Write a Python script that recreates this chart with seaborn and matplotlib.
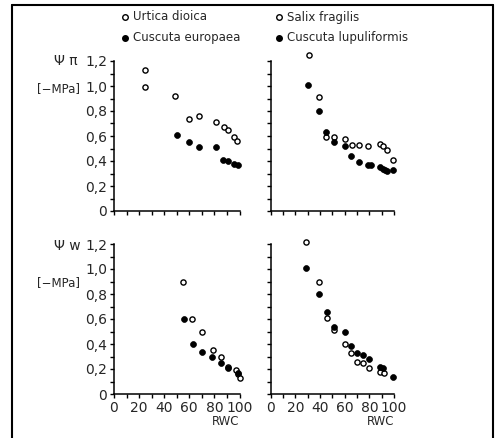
import numpy as np
import pandas as pd
import seaborn as sns
import matplotlib.pyplot as plt
from matplotlib.lines import Line2D
from matplotlib.ticker import MultipleLocator

# --- data (RWC %, potential in -MPa) ---
# top left: osmotic potential, Urtica dioica (open) / Cuscuta europaea (filled)
urtica_pi_rwc = [25, 25, 49, 60, 68, 81, 88, 91, 96, 98]
urtica_pi_val = [1.13, 0.99, 0.92, 0.74, 0.76, 0.71, 0.67, 0.65, 0.59, 0.56]
europaea_pi_rwc = [50, 60, 68, 81, 87, 91, 96, 99]
europaea_pi_val = [0.61, 0.55, 0.51, 0.51, 0.41, 0.40, 0.38, 0.365]

# top right: Salix fragilis (open) / Cuscuta lupuliformis (filled)
salix_pi_rwc = [31, 39, 45, 51, 60, 66, 72, 79, 89, 91, 94, 99]
salix_pi_val = [1.25, 0.91, 0.59, 0.59, 0.58, 0.53, 0.53, 0.52, 0.54, 0.52, 0.49, 0.41]
lupuli_pi_rwc = [30, 39, 45, 51, 60, 65, 72, 79, 81, 89, 91, 93, 94, 99]
lupuli_pi_val = [1.01, 0.80, 0.63, 0.55, 0.52, 0.44, 0.39, 0.365, 0.365, 0.355, 0.34, 0.325, 0.317, 0.328]

# bottom left: water potential
urtica_w_rwc = [55, 62, 70, 79, 85, 91, 97.5, 99, 100]
urtica_w_val = [0.90, 0.60, 0.50, 0.35, 0.30, 0.22, 0.19, 0.16, 0.125]
europaea_w_rwc = [56, 63, 70, 78, 85, 91, 99]
europaea_w_val = [0.60, 0.40, 0.34, 0.30, 0.25, 0.205, 0.17]

# bottom right
salix_w_rwc = [29, 39, 46, 51, 60, 65, 70, 75, 80, 89, 92]
salix_w_val = [1.22, 0.90, 0.61, 0.51, 0.40, 0.33, 0.255, 0.245, 0.21, 0.18, 0.165]
lupuli_w_rwc = [29, 39, 46, 51, 60, 65, 70, 75, 80, 89, 91, 99]
lupuli_w_val = [1.01, 0.80, 0.655, 0.54, 0.50, 0.385, 0.33, 0.31, 0.28, 0.215, 0.21, 0.14]

y_ticks = [0, 0.2, 0.4, 0.6, 0.8, 1.0, 1.2]
y_labels = ["0", "0,2", "0,4", "0,6", "0,8", "1,0", "1,2"]
x_ticks = [0, 20, 40, 60, 80, 100]
x_labels = ["0", "20", "40", "60", "80", "100"]

sns.set_style("ticks")
plt.rcParams['font.family'] = ['DejaVu Sans']
plt.rcParams['font.size'] = 8

W, H = 498, 438
fig = plt.figure(figsize=(W / 100, H / 100), dpi=100)


def make_ax(x0, x1, y0, y1):
    return fig.add_axes([x0 / W, 1 - y0 / H, (x1 - x0) / W, (y0 - y1) / H])


ax_tl = make_ax(114, 239.5, 211, 61)
ax_tr = make_ax(270.7, 394, 211, 61)
ax_bl = make_ax(114, 239.5, 394, 244)
ax_br = make_ax(270.7, 394, 394, 244)

panels = [
    (ax_tl, urtica_pi_rwc, urtica_pi_val, europaea_pi_rwc, europaea_pi_val),
    (ax_tr, salix_pi_rwc, salix_pi_val, lupuli_pi_rwc, lupuli_pi_val),
    (ax_bl, urtica_w_rwc, urtica_w_val, europaea_w_rwc, europaea_w_val),
    (ax_br, salix_w_rwc, salix_w_val, lupuli_w_rwc, lupuli_w_val),
]

for ax, ox, oy, fx, fy in panels:
    sns.scatterplot(x=ox, y=oy, ax=ax, s=14, marker='o', facecolor='white',
                    edgecolor='black', linewidth=1.0, clip_on=False, zorder=3)
    sns.scatterplot(x=fx, y=fy, ax=ax, s=18, marker='o', color='black',
                    edgecolor='black', linewidth=0.5, clip_on=False, zorder=3)
    ax.set_xlim(0, 100)
    ax.set_ylim(0, 1.2)
    ax.xaxis.set_minor_locator(MultipleLocator(10))
    ax.yaxis.set_minor_locator(MultipleLocator(0.1))
    ax.set_xticks(x_ticks)
    ax.set_yticks(y_ticks)
    ax.tick_params(which='both', direction='out', length=3, width=1,
                   color='black', labelsize=10, pad=2)
    for sp in ['left', 'bottom']:
        ax.spines[sp].set_linewidth(1.1)
        ax.spines[sp].set_color('black')
    for sp in ['top', 'right']:
        ax.spines[sp].set_visible(False)
    ax.set_xlabel('')
    ax.set_ylabel('')
    ax.set_facecolor('none')

for ax in [ax_tl, ax_bl]:
    ax.set_yticklabels(y_labels)
for ax in [ax_tr, ax_br]:
    ax.set_yticklabels([])
for ax in [ax_tl, ax_tr]:
    ax.set_xticklabels([])
for ax in [ax_bl, ax_br]:
    ax.set_xticklabels(x_labels)
    ax.text(1.0, -0.14, 'RWC', transform=ax.transAxes, ha='right', va='top',
            fontsize=8.5)

# y axis labels
fig.text(54 / W, 1 - 61 / H, 'Ψ π', fontsize=10, ha='left', va='center')
fig.text(58 / W, 1 - 89 / H, '[−MPa]', fontsize=8.5, ha='center', va='center')
fig.text(54 / W, 1 - 246 / H, 'Ψ w', fontsize=10, ha='left', va='center')
fig.text(58 / W, 1 - 283 / H, '[−MPa]', fontsize=8.5, ha='center', va='center')

# legends
legend_items = [
    (125, 17, 'Urtica dioica', False),
    (125, 38, 'Cuscuta europaea', True),
    (279, 17, 'Salix fragilis', False),
    (279, 38, 'Cuscuta lupuliformis', True),
]
for lx, ly, label, filled in legend_items:
    fig.add_artist(Line2D([lx / W], [1 - ly / H], marker='o', markersize=4,
                          markerfacecolor='black' if filled else 'white',
                          markeredgecolor='black', markeredgewidth=1,
                          linestyle='none'))
    fig.text((lx + 8) / W, 1 - ly / H, label, fontsize=8.5, ha='left',
             va='center')

# outer frame
lw = 1.5
fig.add_artist(Line2D([11.5 / W, 11.5 / W], [0, 1 - 5 / H], color='black', lw=lw))
fig.add_artist(Line2D([11.5 / W, 492.5 / W], [1 - 5 / H, 1 - 5 / H], color='black', lw=lw))
fig.add_artist(Line2D([492.5 / W, 492.5 / W], [0, 1 - 5 / H], color='black', lw=lw))

fig.savefig('out.png', dpi=100, facecolor='white')
